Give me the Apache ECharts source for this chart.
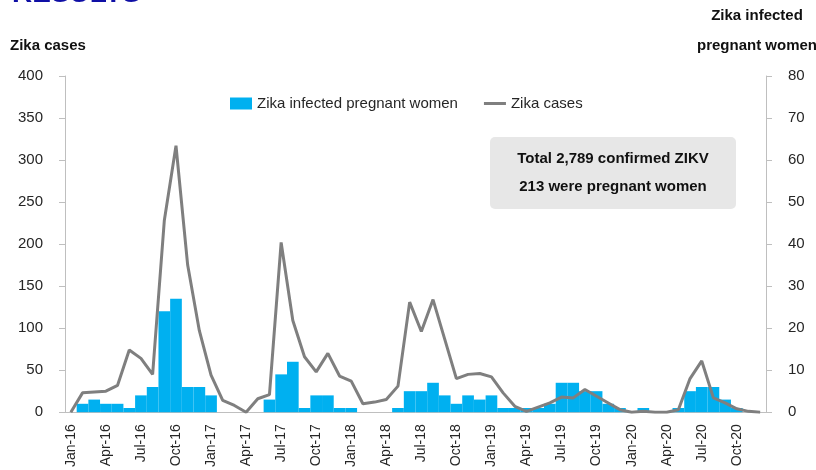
<!DOCTYPE html>
<html>
<head>
<meta charset="utf-8">
<script src="https://cdn.jsdelivr.net/npm/echarts@6/dist/echarts.min.js"></script>
<style>
  html, body { margin: 0; padding: 0; background: #fff; }
  #chart { width: 816px; height: 470px; }
</style>
</head>
<body>
<div id="chart"></div>
<script>
var monthNames = ['Jan', 'Feb', 'Mar', 'Apr', 'May', 'Jun', 'Jul', 'Aug', 'Sep', 'Oct', 'Nov', 'Dec'];
var years = ['16', '17', '18', '19', '20'];

// monthly Zika cases (left axis), Jan-16 .. Dec-20
var zikaCases = [
    0, 23, 24, 25, 32, 74, 64, 45, 228, 317, 175, 97,
    44, 14, 8, 0, 16, 21, 202, 109, 66, 48, 70, 43,
    37, 10, 12, 15, 31, 131, 96, 134, 87, 40, 45, 46,
    42, 23, 7, 1, 6, 11, 18, 17, 27, 19, 11, 3,
    0, 1, 0, 0, 3, 40, 61, 17, 11, 4, 1, 0
];

// monthly Zika infected pregnant women (right axis)
var pregnantWomen = [
    0, 2, 3, 2, 2, 1, 4, 6, 24, 27, 6, 6,
    4, 0, 0, 0, 0, 3, 9, 12, 1, 4, 4, 1,
    1, 0, 0, 0, 1, 5, 5, 7, 4, 2, 4, 3,
    4, 1, 1, 1, 1, 2, 7, 7, 5, 5, 2, 1,
    0, 1, 0, 0, 1, 5, 6, 6, 3, 1, 0, 0
];

var months = [];
years.forEach(function (y) {
    monthNames.forEach(function (m) {
        months.push(m + '-' + y);
    });
});

var axisGray = '#bfbfbf';
var textColor = '#262626';
var font = 'Liberation Sans, Arial, sans-serif';

var chart = echarts.init(document.getElementById('chart'));
var option = {
    backgroundColor: '#fff',
    animation: false,
    textStyle: { fontFamily: font },
    legend: {
        left: 225,
        top: 91,
        itemWidth: 22,
        itemHeight: 12,
        itemGap: 26,
        textStyle: { fontSize: 15, color: textColor },
        data: [
            { name: 'Zika infected pregnant women', icon: 'rect' },
            // plain line, no marker
            { name: 'Zika cases', icon: 'path://M0,0 H22 V3 H0 Z' }
        ]
    },
    grid: {
        left: 65,
        right: 50,
        top: 76,
        bottom: 54
    },
    xAxis: {
        type: 'category',
        data: months,
        boundaryGap: true,
        axisLine: { lineStyle: { color: axisGray, width: 1 } },
        axisTick: { interval: 2, length: 5, lineStyle: { color: axisGray } },
        axisLabel: {
            interval: 2,
            rotate: 90,
            margin: 12,
            fontSize: 14,
            color: textColor
        },
        splitLine: { show: false }
    },
    yAxis: [{
        type: 'value',
        min: 0,
        max: 400,
        interval: 50,
        axisLine: { show: true, lineStyle: { color: axisGray } },
        axisTick: { show: true, length: 6, lineStyle: { color: axisGray } },
        axisLabel: { margin: 22, fontSize: 15, color: textColor },
        splitLine: { show: false }
    }, {
        type: 'value',
        min: 0,
        max: 80,
        interval: 10,
        position: 'right',
        axisLine: { show: true, lineStyle: { color: axisGray } },
        axisTick: { show: true, length: 6, lineStyle: { color: axisGray } },
        axisLabel: { margin: 22, fontSize: 15, color: textColor },
        splitLine: { show: false }
    }],
    series: [{
        name: 'Zika infected pregnant women',
        type: 'bar',
        yAxisIndex: 1,
        barCategoryGap: '0%',
        itemStyle: { color: '#00b0f0' },
        data: pregnantWomen
    }, {
        name: 'Zika cases',
        type: 'line',
        yAxisIndex: 0,
        symbol: 'none',
        lineStyle: { color: '#7f7f7f', width: 3 },
        itemStyle: { color: '#7f7f7f' },
        data: zikaCases
    }],
    graphic: [{
        // slide title, cut off by the top edge
        type: 'text',
        x: 12,
        y: -6,
        style: {
            text: 'RESULTS',
            verticalAlign: 'middle',
            fontSize: 28,
            fontWeight: 'bold',
            fontFamily: font,
            fill: '#0f0fa5'
        }
    }, {
        type: 'text',
        x: 10,
        y: 46,
        style: {
            text: 'Zika cases',
            verticalAlign: 'middle',
            fontSize: 15,
            fontWeight: 'bold',
            fontFamily: font,
            fill: '#111'
        }
    }, {
        type: 'text',
        x: 757,
        y: 16,
        style: {
            text: 'Zika infected',
            align: 'center',
            verticalAlign: 'middle',
            fontSize: 15,
            fontWeight: 'bold',
            fontFamily: font,
            fill: '#111'
        }
    }, {
        type: 'text',
        x: 757,
        y: 46,
        style: {
            text: 'pregnant women',
            align: 'center',
            verticalAlign: 'middle',
            fontSize: 15,
            fontWeight: 'bold',
            fontFamily: font,
            fill: '#111'
        }
    }, {
        type: 'group',
        left: 490,
        top: 137,
        children: [{
            type: 'rect',
            shape: { x: 0, y: 0, width: 246, height: 72, r: 5 },
            style: { fill: '#e7e7e7' }
        }, {
            type: 'text',
            x: 123,
            y: 22,
            style: {
                text: 'Total 2,789 confirmed ZIKV',
                align: 'center',
                verticalAlign: 'middle',
                fontSize: 15,
                fontWeight: 'bold',
                fontFamily: font,
                fill: '#111'
            }
        }, {
            type: 'text',
            x: 123,
            y: 50,
            style: {
                text: '213 were pregnant women',
                align: 'center',
                verticalAlign: 'middle',
                fontSize: 15,
                fontWeight: 'bold',
                fontFamily: font,
                fill: '#111'
            }
        }]
    }]
};
chart.setOption(option);
</script>
</body>
</html>
